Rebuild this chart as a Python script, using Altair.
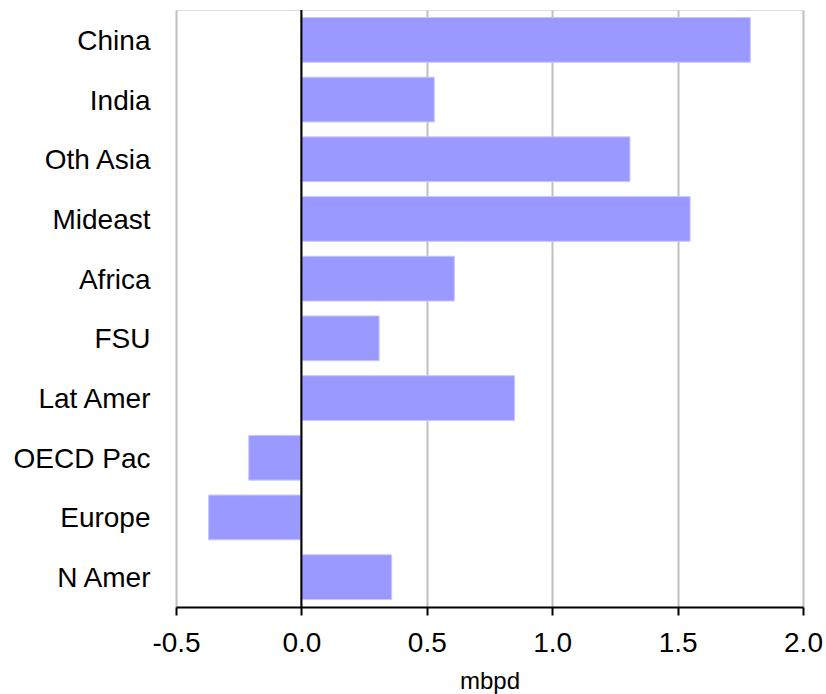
import altair as alt
import pandas as pd

regions = ["China", "India", "Oth Asia", "Mideast", "Africa", "FSU",
           "Lat Amer", "OECD Pac", "Europe", "N Amer"]
values = [1.79, 0.53, 1.31, 1.55, 0.61, 0.31, 0.85, -0.21, -0.37, 0.36]
x_ticks = [-0.5, 0.0, 0.5, 1.0, 1.5, 2.0]

df = pd.DataFrame({"region": regions, "value": values})
zero = pd.DataFrame({"x": [0.0]})

FONT = "Liberation Sans"

xscale = alt.Scale(domain=[-0.5, 2.0], nice=False, zero=False)

bars = alt.Chart(df).mark_bar(color="#9999ff", stroke="#c8c8ff", strokeWidth=1).encode(
    x=alt.X("value:Q", scale=xscale,
            axis=alt.Axis(values=x_ticks, title="mbpd",
                          labelExpr="datum.value < 0 ? '-' + format(-datum.value, '.1f') : format(datum.value, '.1f')",
                          grid=True, gridColor="#c0c0c0", gridWidth=2,
                          domainColor="black", domainWidth=2,
                          tickColor="black", tickWidth=2, tickSize=8,
                          labelFontSize=28, labelFont=FONT, labelColor="black",
                          labelPadding=14, labelFlush=False,
                          titleFontSize=24, titleFont=FONT, titleColor="black",
                          titleFontWeight="normal", titlePadding=12)),
    y=alt.Y("region:N", sort=regions,
            scale=alt.Scale(paddingInner=0.25, paddingOuter=0.125),
            axis=alt.Axis(title=None, ticks=False, domain=False, grid=False,
                          labelFontSize=28, labelFont=FONT, labelColor="black",
                          labelPadding=26, labelOffset=2)),
)

zero_line = alt.Chart(zero).mark_rule(color="black", strokeWidth=2).encode(
    x=alt.X("x:Q", scale=xscale)
)

chart = alt.layer(bars, zero_line).properties(
    width=627, height=597,
    autosize=alt.AutoSizeParams(type="none"),
    padding={"left": 176, "top": 10, "right": 23, "bottom": 87},
).configure_view(stroke=None).configure(background="white")

chart.save("out.html", embed_options={"renderer": "svg", "actions": False})
